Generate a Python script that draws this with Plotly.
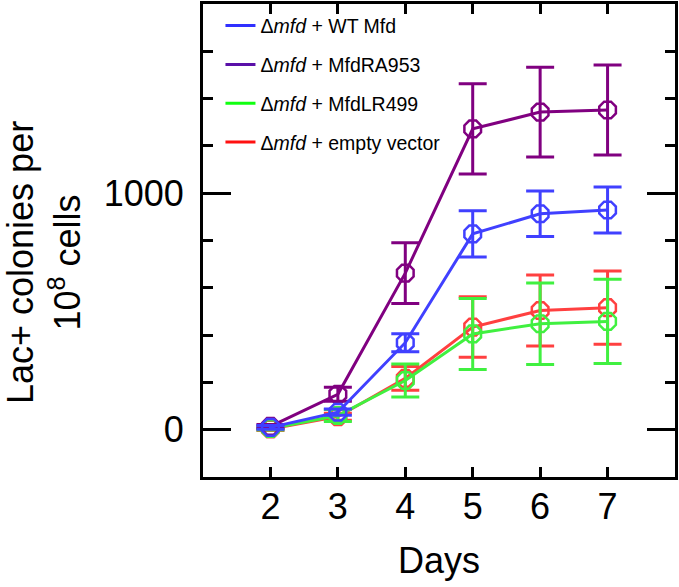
import plotly.graph_objects as go

days = [2, 3, 4, 5, 6, 7]

wt_mean = [10, 74, 368, 828, 913, 929]
wt_err = [8, 13, 38, 98, 96, 97]

ra_mean = [14, 150, 662, 1272, 1343, 1352]
ra_err = [8, 30, 128, 191, 190, 190]

lr_mean = [5, 60, 208, 405, 448, 458]
lr_err = [6, 25, 70, 150, 172, 178]

ev_mean = [3, 55, 217, 434, 504, 516]
ev_err = [6, 15, 50, 128, 150, 155]

names = ["Δ<i>mfd</i> + WT Mfd", "Δ<i>mfd</i> + MfdRA953",
         "Δ<i>mfd</i> + MfdLR499", "Δ<i>mfd</i> + empty vector"]
data_colors = ["#4040ff", "#800080", "#40f040", "#ff4040"]
legend_colors = ["#3030ff", "#5a10a8", "#10ff10", "#ff1010"]

series = [(wt_mean, wt_err), (ra_mean, ra_err), (lr_mean, lr_err), (ev_mean, ev_err)]
draw_order = [3, 2, 1, 0]

FONT = "Arial, Liberation Sans, sans-serif"

fig = go.Figure()
for i in draw_order:
    m, e = series[i]
    fig.add_trace(go.Scatter(
        x=days, y=m, mode="lines+markers", showlegend=False,
        line=dict(color=data_colors[i], width=3),
        marker=dict(symbol="octagon-open", size=18, color=data_colors[i],
                    line=dict(width=2.5, color=data_colors[i])),
        error_y=dict(type="data", array=e, visible=True, color=data_colors[i],
                     thickness=3, width=14),
    ))

for i in range(4):
    fig.add_trace(go.Scatter(
        x=[None], y=[None], mode="lines", name=names[i],
        line=dict(color=legend_colors[i], width=3),
        legendgroup=f"g{i}", legendrank=i + 1,
    ))

fig.update_layout(
    width=679, height=587,
    margin=dict(l=203, r=2, t=1, b=110),
    paper_bgcolor="white", plot_bgcolor="white",
    font=dict(family=FONT, color="black"),
    legend=dict(x=0.037, y=0.995, xanchor="left", yanchor="top",
                bgcolor="rgba(0,0,0,0)", font=dict(size=19.5, family=FONT),
                tracegroupgap=10.5, traceorder="grouped"),
    xaxis=dict(range=[1, 8], tickvals=days, ticks="inside", ticklen=10,
               tickwidth=3, tickcolor="black", showline=True, linewidth=3,
               linecolor="black", mirror="ticks", showgrid=False, zeroline=False,
               tickfont=dict(size=36), ticklabelstandoff=-4,
               title=dict(text="Days", font=dict(size=36), standoff=22)),
    yaxis=dict(range=[-200, 1800], tickvals=[0, 1000], ticks="inside", ticklen=28,
               tickwidth=3, tickcolor="black", showline=True, linewidth=3,
               linecolor="black", mirror="ticks", showgrid=False, zeroline=False,
               tickfont=dict(size=36), ticklabelstandoff=9,
               minor=dict(tickvals=[-200, 200, 400, 600, 800, 1200, 1400, 1600],
                          ticks="inside", ticklen=10, tickwidth=3, tickcolor="black",
                          showgrid=False)),
    annotations=[dict(text="Lac+ colonies per<br>10<sup>8</sup> cells",
                      textangle=-90, xref="paper", yref="paper",
                      x=-0.3365, y=0.4527, xanchor="center", yanchor="middle",
                      showarrow=False, font=dict(size=36, family=FONT))],
)

fig.write_html("out.html",
               config={"displayModeBar": False},
               post_script="document.body.style.margin='0';document.body.style.overflow='hidden';")
